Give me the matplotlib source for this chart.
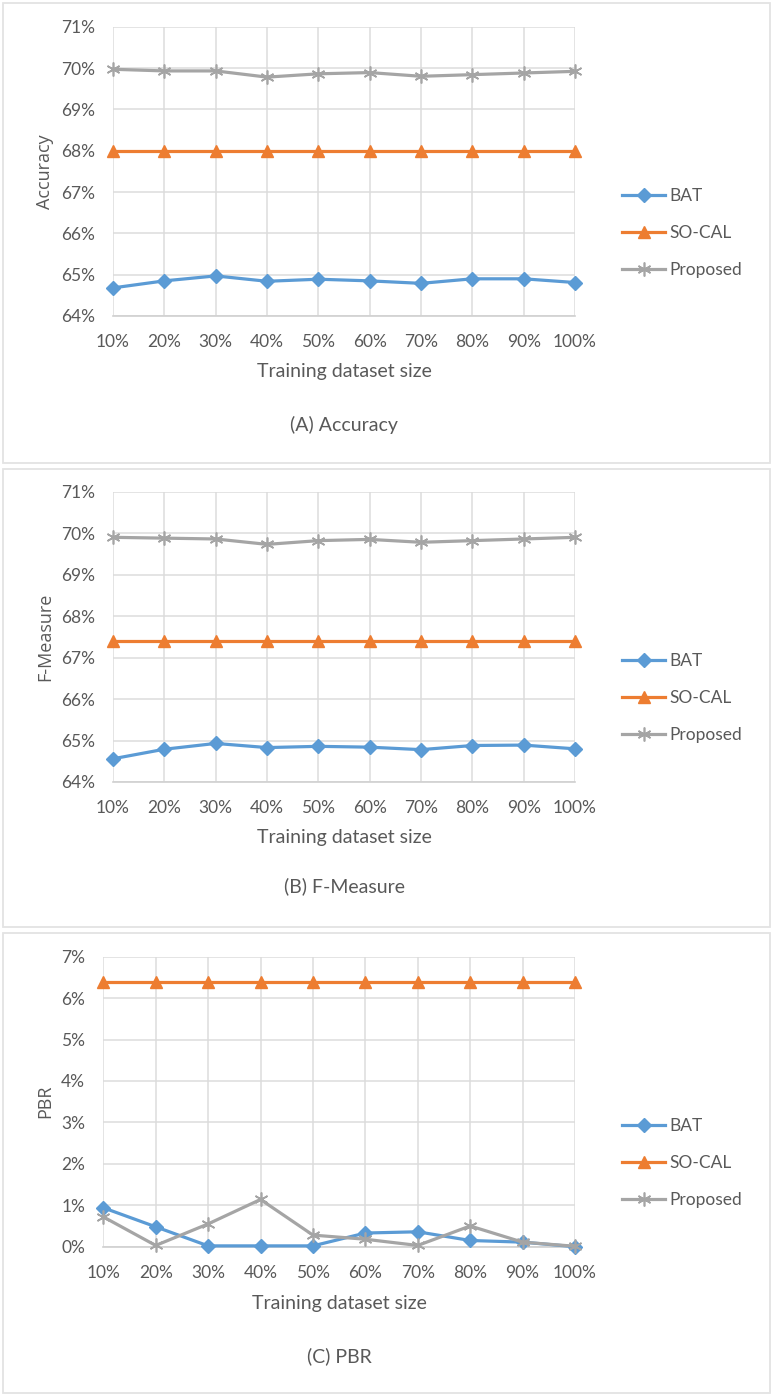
import matplotlib
matplotlib.use("Agg")
import matplotlib.pyplot as plt
from matplotlib.patches import Rectangle
from matplotlib.ticker import FuncFormatter

plt.rcParams['font.family'] = ['Lato', 'DejaVu Sans']

categories = ["10%", "20%", "30%", "40%", "50%", "60%", "70%", "80%", "90%", "100%"]

acc_bat = [64.68, 64.85, 64.97, 64.84, 64.89, 64.85, 64.79, 64.90, 64.90, 64.81]
acc_socal = [68.0] * 10
acc_proposed = [69.97, 69.93, 69.93, 69.78, 69.86, 69.89, 69.80, 69.84, 69.88, 69.92]

fm_bat = [64.56, 64.79, 64.93, 64.83, 64.86, 64.84, 64.78, 64.88, 64.89, 64.80]
fm_socal = [67.40] * 10
fm_proposed = [69.90, 69.88, 69.86, 69.73, 69.82, 69.85, 69.78, 69.82, 69.86, 69.90]

pbr_bat = [0.94, 0.48, 0.02, 0.02, 0.02, 0.33, 0.36, 0.15, 0.11, 0.0]
pbr_socal = [6.40] * 10
pbr_proposed = [0.72, 0.03, 0.55, 1.14, 0.28, 0.18, 0.03, 0.50, 0.11, 0.01]

series_names = ["BAT", "SO-CAL", "Proposed"]

W, H = 776, 1400
fig = plt.figure(figsize=(W / 100, H / 100), dpi=100)

def fx(px):
    return px / W

def fy(py):
    return 1 - py / H

TXT = '#595959'
GRID = '#DCDCDC'
C_BAT = '#5B9BD5'
C_SOCAL = '#ED7D31'
C_PROP = '#A5A5A5'

panels = [
    dict(box=(3.3, 3.3, 770, 462.7), ax=(113, 26.7, 575, 316), ylim=(64, 71), yticks=range(64, 72),
         ylabel="Accuracy", caption="(A) Accuracy", data=(acc_bat, acc_socal, acc_proposed),
         xlabel_y=372, caption_y=425, leg_y=233),
    dict(box=(3.3, 468.7, 770, 927.3), ax=(113, 491.7, 575, 782), ylim=(64, 71), yticks=range(64, 72),
         ylabel="F-Measure", caption="(B) F-Measure", data=(fm_bat, fm_socal, fm_proposed),
         xlabel_y=838, caption_y=886, leg_y=698),
    dict(box=(3.3, 933.3, 770, 1392.7), ax=(103.3, 956.7, 575, 1246.7), ylim=(0, 7), yticks=range(0, 8),
         ylabel="PBR", caption="(C) PBR", data=(pbr_bat, pbr_socal, pbr_proposed),
         xlabel_y=1303, caption_y=1356, leg_y=1163),
]

asterisk = (6, 2, 0)

for p in panels:
    x0, y0, x1, y1 = p['box']
    fig.patches.append(Rectangle((fx(x0), fy(y1)), fx(x1) - fx(x0), fy(y0) - fy(y1),
                                 transform=fig.transFigure, facecolor='none',
                                 edgecolor='#E3E3E3', linewidth=1.3, zorder=-1))
    l, t, r, b = p['ax']
    ax = fig.add_axes([fx(l), fy(b), fx(r) - fx(l), fy(t) - fy(b)])
    ax.set_facecolor('none')
    xs = list(range(len(categories)))
    bat, socal, prop = p['data']
    ax.plot(xs, bat, color=C_BAT, lw=2.3, marker='D', ms=7, label=series_names[0], clip_on=False, zorder=3)
    ax.plot(xs, socal, color=C_SOCAL, lw=2.3, marker='^', ms=9, label=series_names[1], clip_on=False, zorder=3)
    ax.plot(xs, prop, color=C_PROP, lw=2.3, marker=asterisk, ms=10, mew=1.2, label=series_names[2],
            clip_on=False, zorder=3)
    ax.set_xlim(0, len(categories) - 1)
    ax.set_ylim(*p['ylim'])
    ax.set_xticks(xs)
    ax.set_xticklabels(categories)
    ax.set_yticks(list(p['yticks']))
    ax.yaxis.set_major_formatter(FuncFormatter(lambda v, pos: f"{int(round(v))}%"))
    ax.grid(True, color=GRID, lw=1.1, zorder=0)
    ax.set_axisbelow(True)
    for s in ax.spines.values():
        s.set_visible(False)
    ax.spines['bottom'].set_visible(True)
    ax.spines['bottom'].set_color('#D0D0D0')
    ax.spines['bottom'].set_linewidth(1.2)
    ax.tick_params(length=0, labelsize=12.5, colors=TXT)
    ax.tick_params(axis='y', pad=13)
    ax.tick_params(axis='x', pad=13)
    cx = fx((l + r) / 2)
    fig.text(cx, fy(p['xlabel_y']), "Training dataset size", ha='center', va='center',
             fontsize=14, color=TXT)
    fig.text(cx, fy(p['caption_y']), p['caption'], ha='center', va='center',
             fontsize=14, color=TXT)
    fig.text(fx(45), fy((t + b) / 2), p['ylabel'], ha='center', va='center', rotation=90,
             fontsize=13, color=TXT, family=['Open Sans', 'DejaVu Sans'])
    ax.legend(loc='center left', bbox_to_anchor=(fx(622), fy(p['leg_y'])),
              bbox_transform=fig.transFigure, frameon=False, fontsize=12.5,
              labelcolor=TXT, handlelength=2.5, handletextpad=0.25, labelspacing=1.2,
              borderaxespad=0, borderpad=0)

fig.savefig("out.png", dpi=100, facecolor='white')
